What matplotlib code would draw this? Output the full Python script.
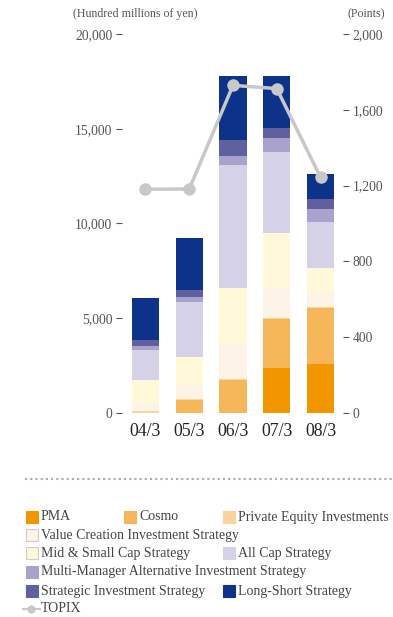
#!/usr/bin/env python3
"""
Stacked bars of assets under management by strategy
with the TOPIX index on a second axis
"""
import matplotlib.pyplot as plt
import matplotlib.patches as patches
from matplotlib.lines import Line2D
from matplotlib.ticker import FuncFormatter

# Data (hundred millions of yen)
years = ["04/3", "05/3", "06/3", "07/3", "08/3"]
pma = [0, 0, 0, 2370, 2580]
cosmo = [0, 660, 1720, 2590, 2950]
private_equity = [95, 70, 70, 60, 70]
value_creation = [355, 740, 1830, 1640, 725]
mid_small_cap = [1270, 1480, 2960, 2860, 1320]
all_cap = [1590, 2900, 6510, 4230, 2430]
multi_manager = [210, 280, 480, 740, 700]
strategic = [320, 350, 850, 570, 530]
long_short = [2220, 2750, 3390, 2750, 1310]
topix = [1181, 1182, 1729, 1712, 1244]

series_names = [
    "PMA",
    "Cosmo",
    "Private Equity Investments",
    "Value Creation Investment Strategy",
    "Mid & Small Cap Strategy",
    "All Cap Strategy",
    "Multi-Manager Alternative Investment Strategy",
    "Strategic Investment Strategy",
    "Long-Short Strategy",
]
series_values = [pma, cosmo, private_equity, value_creation, mid_small_cap,
                 all_cap, multi_manager, strategic, long_short]

# Styles
COLORS = ["#F29600", "#F6B75A", "#FAD49A", "#FEF3E7", "#FFF9DA",
          "#D5D2E7", "#A8A2CC", "#6060A0", "#0D3289"]
LINE_COLOR = "#C8C8C8"
TEXT_COLOR = "#555555"
FONT = ["Liberation Serif", "DejaVu Serif"]
BAR_WIDTH = 0.62
TICK_SIZE = 9.8

plt.rcParams["font.family"] = FONT

fig = plt.figure(figsize=(3.93, 6.17), dpi=100)
ax = fig.add_axes([122 / 393, 1 - 413 / 617, 221 / 393, 379 / 617])

x = list(range(len(years)))
bottoms = [0] * len(years)
for values, color in zip(series_values, COLORS):
    ax.bar(x, values, BAR_WIDTH, bottom=bottoms, color=color, linewidth=0)
    bottoms = [b + v for b, v in zip(bottoms, values)]

ax.set_xlim(-0.537, 4.514)
ax.set_ylim(0, 20000)
ax.set_yticks([0, 5000, 10000, 15000, 20000])
ax.yaxis.set_major_formatter(FuncFormatter(lambda v, p: f"{int(v):,}"))
ax.set_xticks(x)
ax.set_xticklabels(years, fontsize=12.8, color="#222222")
ax.tick_params(axis="x", length=0, pad=7)
ax.tick_params(axis="y", length=4, width=0.8, color=TEXT_COLOR,
               labelcolor=TEXT_COLOR, labelsize=TICK_SIZE, pad=3)
for s in ax.spines.values():
    s.set_visible(False)

ax2 = ax.twinx()
ax2.plot(x, topix, color=LINE_COLOR, linewidth=2.5, marker="o",
         markersize=9, markerfacecolor=LINE_COLOR, markeredgewidth=0)
ax2.set_ylim(0, 2000)
ax2.set_yticks([0, 400, 800, 1200, 1600, 2000])
ax2.yaxis.set_major_formatter(FuncFormatter(lambda v, p: f"{int(v):,}"))
ax2.tick_params(axis="y", length=4, width=0.8, color=TEXT_COLOR,
                labelcolor=TEXT_COLOR, labelsize=TICK_SIZE, pad=3)
for s in ax2.spines.values():
    s.set_visible(False)

# Axis unit captions
fig.text(73 / 393, 1 - 14 / 617, "(Hundred millions of yen)", fontsize=8.6,
         color=TEXT_COLOR, va="center", ha="left")
fig.text(385 / 393, 1 - 14 / 617, "(Points)", fontsize=8.6,
         color=TEXT_COLOR, va="center", ha="right")

# Dotted separator
fig.add_artist(Line2D([25 / 393, 1.0], [1 - 479 / 617] * 2, color="#AAAAAA",
                      linewidth=1.5, linestyle=(0, (1, 1.5))))

# Legend, laid out by hand
legend_pos = [(26, 517), (124, 517), (223, 517), (26, 535), (26, 553),
              (223, 553), (26, 572), (26, 591), (223, 591)]
for name, color, (px, py) in zip(series_names, COLORS, legend_pos):
    edge = "#CCCCCC" if name in ("Value Creation Investment Strategy",
                                 "Mid & Small Cap Strategy") else color
    fig.add_artist(patches.Rectangle(
        (px / 393, 1 - (py + 6) / 617), 12 / 393, 12 / 617,
        facecolor=color, edgecolor=edge, linewidth=0.8,
        transform=fig.transFigure))
    fig.text((px + 15) / 393, 1 - py / 617, name, fontsize=10,
             color="#444444", va="center", ha="left")

fig.add_artist(Line2D([23 / 393, 40 / 393], [1 - 609 / 617] * 2,
                      color=LINE_COLOR, linewidth=1.5))
fig.add_artist(Line2D([31 / 393], [1 - 609 / 617], color=LINE_COLOR,
                      marker="o", markersize=6, markeredgewidth=0))
fig.text(41 / 393, 1 - 609 / 617, "TOPIX", fontsize=10, color="#444444",
         va="center", ha="left")

fig.savefig("out.png", dpi=100)
